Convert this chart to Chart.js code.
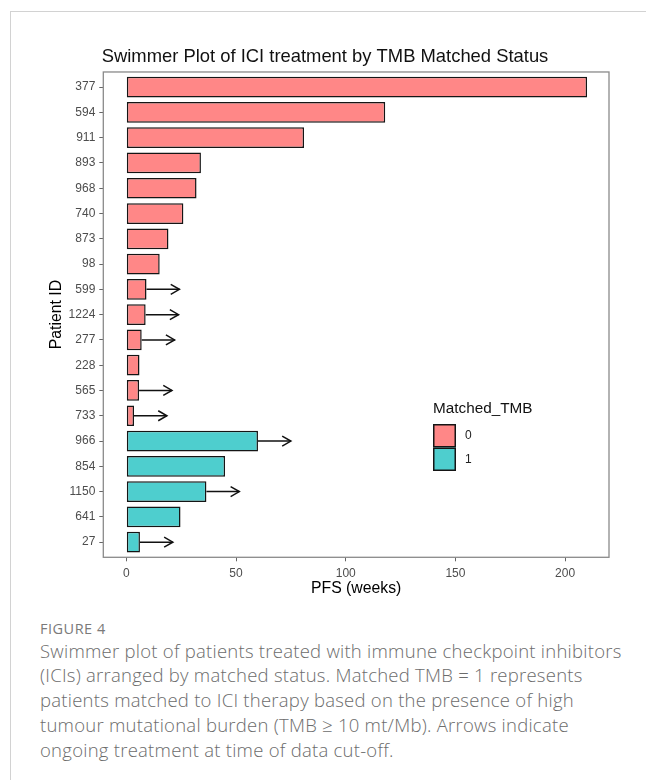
<!DOCTYPE html>
<html>
<head>
<meta charset="utf-8">
<title>Swimmer Plot of ICI treatment by TMB Matched Status</title>
<script src="https://cdn.jsdelivr.net/npm/chart.js@4/dist/chart.umd.min.js"></script>
<style>
  html, body { margin: 0; padding: 0; background: #fff; }
  body { width: 646px; height: 780px; position: relative; overflow: hidden; }
  #card { position: absolute; left: 10px; top: 11px; right: 0; bottom: 0;
          border-left: 1px solid #d2d2d2; border-top: 1px solid #d2d2d2; }
  #plot { position: absolute; left: 0; top: 0; }
  #figlabel { position: absolute; left: 40px; top: 619px; font-family: "Open Sans", sans-serif;
              font-size: 14.5px; line-height: 20px; color: #7a7a7a; letter-spacing: 0.5px; }
  #caption { position: absolute; left: 40px; top: 638.6px; font-family: "Open Sans", sans-serif;
             font-weight: 300; font-size: 18.5px; line-height: 24.8px; letter-spacing: 0.25px;
             color: #6c6c6c; white-space: nowrap; }
</style>
</head>
<body>
<div id="card"></div>
<canvas id="plot" width="646" height="600"></canvas>
<div id="figlabel">FIGURE 4</div>
<div id="caption">Swimmer plot of patients treated with immune checkpoint inhibitors<br>(ICIs) arranged by matched status. Matched TMB = 1 represents<br>patients matched to ICI therapy based on the presence of high<br>tumour mutational burden (TMB ≥ 10 mt/Mb). Arrows indicate<br>ongoing treatment at time of data cut-off.</div>

<script>
// Patients, top to bottom
const patientIds = ['377', '594', '911', '893', '968', '740', '873', '98', '599', '1224',
                    '277', '228', '565', '733', '966', '854', '1150', '641', '27'];
// Progression-free survival, weeks
const pfsWeeks = [210, 118, 81, 34, 32, 26, 19.2, 15.2, 9.2, 8.8,
                  7, 6, 5.8, 3.5, 60, 45, 36.5, 24.7, 6.2];
// Matched_TMB group of each patient
const matchedTmb = [0, 0, 0, 0, 0, 0, 0, 0, 0, 0, 0, 0, 0, 0, 1, 1, 1, 1, 1];
// Patients still on treatment at data cut-off
const ongoingIds = ['599', '1224', '277', '565', '733', '966', '1150', '27'];
// Legend levels and x-axis ticks
const matchedLevels = [0, 1];
const xTickValues = [0, 50, 100, 150, 200];

const FONT = '"Liberation Sans", Arial, sans-serif';
const groupFill = ['#FF8787', '#4ECECE'];
const ARROW_EXTENSION = 15;   // weeks an ongoing-treatment arrow reaches past the bar

// One dataset per Matched_TMB level; each bar sits at its patient's row index
const datasets = matchedLevels.map((lvl, k) => ({
  label: String(lvl),
  data: pfsWeeks
    .map((v, i) => ({ x: v, y: i, g: matchedTmb[i] }))
    .filter(p => p.g === lvl)
    .map(p => ({ x: p.x, y: p.y })),
  backgroundColor: groupFill[k],
  borderColor: '#151515',
  borderWidth: 1.5,
  borderSkipped: false,
  grouped: false,
  categoryPercentage: 1,
  barPercentage: 0.82
}));

// Open arrowheads for patients still on treatment
const ongoingArrows = {
  id: 'ongoingArrows',
  afterDatasetsDraw(chart) {
    const { ctx, scales: { x, y } } = chart;
    ctx.save();
    ctx.strokeStyle = '#111';
    ctx.lineWidth = 1.5;
    patientIds.forEach((id, i) => {
      if (!ongoingIds.includes(id)) return;
      const py = y.getPixelForValue(i);
      const x0 = x.getPixelForValue(pfsWeeks[i]);
      const x1 = x.getPixelForValue(pfsWeeks[i] + ARROW_EXTENSION);
      ctx.beginPath();
      ctx.moveTo(x0, py);
      ctx.lineTo(x1, py);
      ctx.stroke();
      ctx.beginPath();
      ctx.moveTo(x1 - 8.7, py - 5);
      ctx.lineTo(x1, py);
      ctx.lineTo(x1 - 8.7, py + 5);
      ctx.stroke();
    });
    ctx.restore();
  }
};

// Grey box around the panel
const panelBorder = {
  id: 'panelBorder',
  afterDatasetsDraw(chart) {
    const { ctx, chartArea: a } = chart;
    ctx.save();
    ctx.strokeStyle = '#8a8a8a';
    ctx.lineWidth = 1.3;
    ctx.strokeRect(a.left, a.top, a.right - a.left, a.bottom - a.top);
    ctx.restore();
  }
};

// Legend drawn inside the panel
const insideLegend = {
  id: 'insideLegend',
  afterDraw(chart) {
    const { ctx } = chart;
    const left = 433, titleY = 409, keyTop = 424, keyW = 23, keyH = 23.5;
    ctx.save();
    ctx.fillStyle = '#111';
    ctx.font = '15.3px ' + FONT;
    ctx.textBaseline = 'middle';
    ctx.textAlign = 'left';
    ctx.fillText('Matched_TMB', left, titleY);
    chart.data.datasets.forEach((ds, k) => {
      const top = keyTop + k * keyH;
      ctx.fillStyle = ds.backgroundColor;
      ctx.fillRect(left, top, keyW, keyH);
      ctx.strokeStyle = '#151515';
      ctx.lineWidth = 1.5;
      ctx.strokeRect(left + 0.75, top + 0.75, keyW - 1.5, keyH - 1.5);
      ctx.fillStyle = '#222';
      ctx.font = '12px ' + FONT;
      ctx.fillText(ds.label, left + keyW + 9, top + keyH / 2);
    });
    ctx.restore();
  }
};

new Chart(document.getElementById('plot'), {
  type: 'bar',
  data: { datasets },
  plugins: [ongoingArrows, panelBorder, insideLegend],
  options: {
    indexAxis: 'y',
    responsive: false,
    animation: false,
    devicePixelRatio: 1,
    layout: { padding: { left: 41, right: 37, top: 0, bottom: 0 } },
    plugins: {
      legend: { display: false },
      tooltip: { enabled: false },
      title: {
        display: true,
        text: 'Swimmer Plot of ICI treatment by TMB Matched Status',
        color: '#111',
        font: { family: FONT, size: 18.4, weight: 'normal' },
        padding: { top: 45.5, bottom: 4.4 }
      }
    },
    scales: {
      x: {
        type: 'linear',
        min: -10.5,
        max: 220,
        afterBuildTicks: s => { s.ticks = xTickValues.map(v => ({ value: v })); },
        afterFit: s => { s.height = 42.7; },
        border: { display: false },
        grid: { display: true, drawOnChartArea: false, drawTicks: true, tickLength: 4, color: '#666', lineWidth: 1 },
        ticks: { color: '#4d4d4d', font: { family: FONT, size: 12 }, padding: 5.5 },
        title: { display: true, text: 'PFS (weeks)', color: '#000',
                 font: { family: FONT, size: 15.8 }, padding: { top: 0, bottom: 2 } }
      },
      y: {
        type: 'linear',
        reverse: true,
        offset: false,
        min: -0.6,
        max: patientIds.length - 0.4,
        afterBuildTicks: s => { s.ticks = patientIds.map((_, i) => ({ value: i })); },
        afterFit: s => { s.width = 62.3; },
        border: { display: false },
        grid: { display: true, offset: false, drawOnChartArea: false, drawTicks: true, tickLength: 4, color: '#666', lineWidth: 1 },
        ticks: { color: '#4d4d4d', font: { family: FONT, size: 12 }, padding: 4, autoSkip: false,
                 callback: v => patientIds[v] },
        title: { display: true, text: 'Patient ID', color: '#000',
                 font: { family: FONT, size: 15.8 }, padding: { top: 6, bottom: 0 } }
      }
    }
  }
});
</script>
</body>
</html>
